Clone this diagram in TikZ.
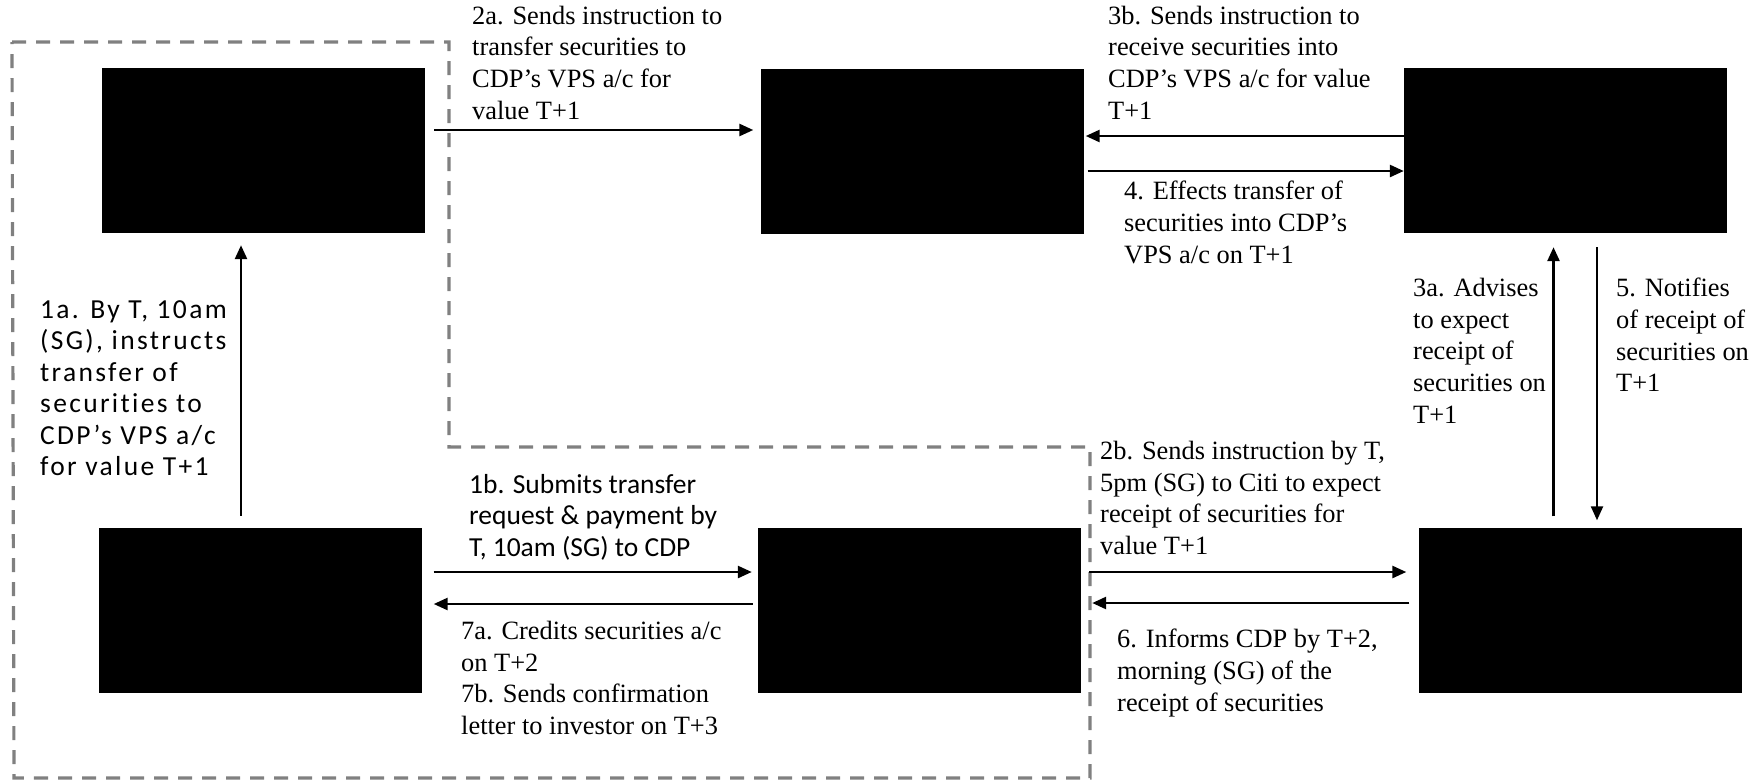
\documentclass[tikz,border=0pt]{standalone}
\usepackage{fontspec}
\setmainfont{Liberation Serif}
\newfontfamily\calfont[Ligatures=NoCommon]{Carlito}
\newfontfamily\calwide[Ligatures=NoCommon,LetterSpace=8.5]{Carlito}
\usetikzlibrary{arrows.meta,positioning,calc}

\begin{document}
\begin{tikzpicture}[x=1pt,y=-1pt,% one unit per pixel, y going down
		every node/.style={
			align=left,  		% use this so that the "\\" for line break works
			inner sep=0pt,
			anchor=north west,
			execute at begin node=\strut,
			font=\fontsize{26.4}{31.7}\selectfont
		},
		box/.style={rectangle,draw=black,fill=black,anchor=center,minimum width=322pt,minimum height=164pt},
		sans/.style={font=\calfont\fontsize{27.5}{31.5}\selectfont},
		wide/.style={font=\calwide\fontsize{27.5}{31.5}\selectfont},
		every edge/.style={draw,line width=2.6pt,-{Triangle[length=14pt,width=12pt]}}
	]
	\useasboundingbox (0,0) rectangle (1760,782);
	% dashed frame round the investor side
	\draw[gray,line width=3.2pt,dash pattern=on 14pt off 10pt]
		(12,42) -- (449,42) -- (449,447) -- (1090,447) -- (1090,778) -- (14,778) -- cycle;
	% boxes
	\node[box](Brk) at (263,150){};
	\node[box](VPS) at (922.5,151.5){};
	\node[box](CitiN) at (1565,150){};
	\node[box](Inv) at (260.5,610){};
	\node[box](CDP) at (919,610){};
	\node[box](CitiS) at (1580.5,610.5){};
	% labels
	\node[wide](L1a) at (40,300){1a. By T, 10am\\(SG), instructs\\transfer of\\securities to\\CDP’s VPS a/c\\for value T+1};
	\node[sans](L1b) at (469,474){1b. Submits transfer\\request \& payment by\\T, 10am (SG) to CDP};
	\node(L2a) at (472,5.5){2a. Sends instruction to\\transfer securities to\\CDP’s VPS a/c for\\value T+1};
	\node(L2b) at (1100,441){2b. Sends instruction by T,\\5pm (SG) to Citi to expect\\receipt of securities for\\value T+1};
	\node(L3a) at (1413,278){3a. Advises\\to expect\\receipt of\\securities on\\T+1};
	\node(L3b) at (1108,5.5){3b. Sends instruction to\\receive securities into\\CDP’s VPS a/c for value\\T+1};
	\node(L4) at (1124,181){4. Effects transfer of\\securities into CDP’s\\VPS a/c on T+1};
	\node(L5) at (1616,278){5. Notifies\\of receipt of\\securities on\\T+1};
	\node(L6) at (1117,629){6. Informs CDP by T+2,\\morning (SG) of the\\receipt of securities};
	\node(L7) at (461,621){7a. Credits securities a/c\\on T+2\\7b. Sends confirmation\\letter to investor on T+3};
	% arrows
	\path
	([xshift=-19.5pt]Inv.north) edge [shorten <=12pt,shorten >=13pt] ([xshift=-19.5pt]Inv.north |- Brk.south)
	([yshift=38pt]Inv.east) edge [shorten <=12pt,shorten >=6pt] ([yshift=38pt]Inv.east -| CDP.west)
	([yshift=20pt]Brk.east) edge [shorten <=10pt,shorten >=8pt] ([yshift=20pt]Brk.east -| VPS.west)
	([yshift=38pt]CDP.east) edge [shorten <=9pt,shorten >=13pt] ([yshift=38pt]CDP.east -| CitiS.west)
	([xshift=-27pt]CitiS.north) edge [shorten <=12pt,shorten >=15pt] ([xshift=-27pt]CitiS.north |- CitiN.south)
	([yshift=14pt]CitiN.west) edge [shorten >=2pt] ([yshift=14pt]CitiN.west -| VPS.east)
	([yshift=-19.5pt]VPS.east) edge [shorten <=4pt] ([yshift=-19.5pt]VPS.east -| CitiN.west)
	([xshift=32pt]CitiN.south) edge [line width=2.2pt,shorten <=15pt,shorten >=8pt] ([xshift=32pt]CitiN.south |- CitiS.north)
	([yshift=7.5pt]CitiS.west) edge [shorten <=10pt,shorten >=12pt] ([yshift=7.5pt]CitiS.west -| CDP.east)
	([yshift=6pt]CDP.west) edge [shorten <=5pt,shorten >=12pt] ([yshift=6pt]CDP.west -| Inv.east)
	;
\end{tikzpicture}
\end{document}
